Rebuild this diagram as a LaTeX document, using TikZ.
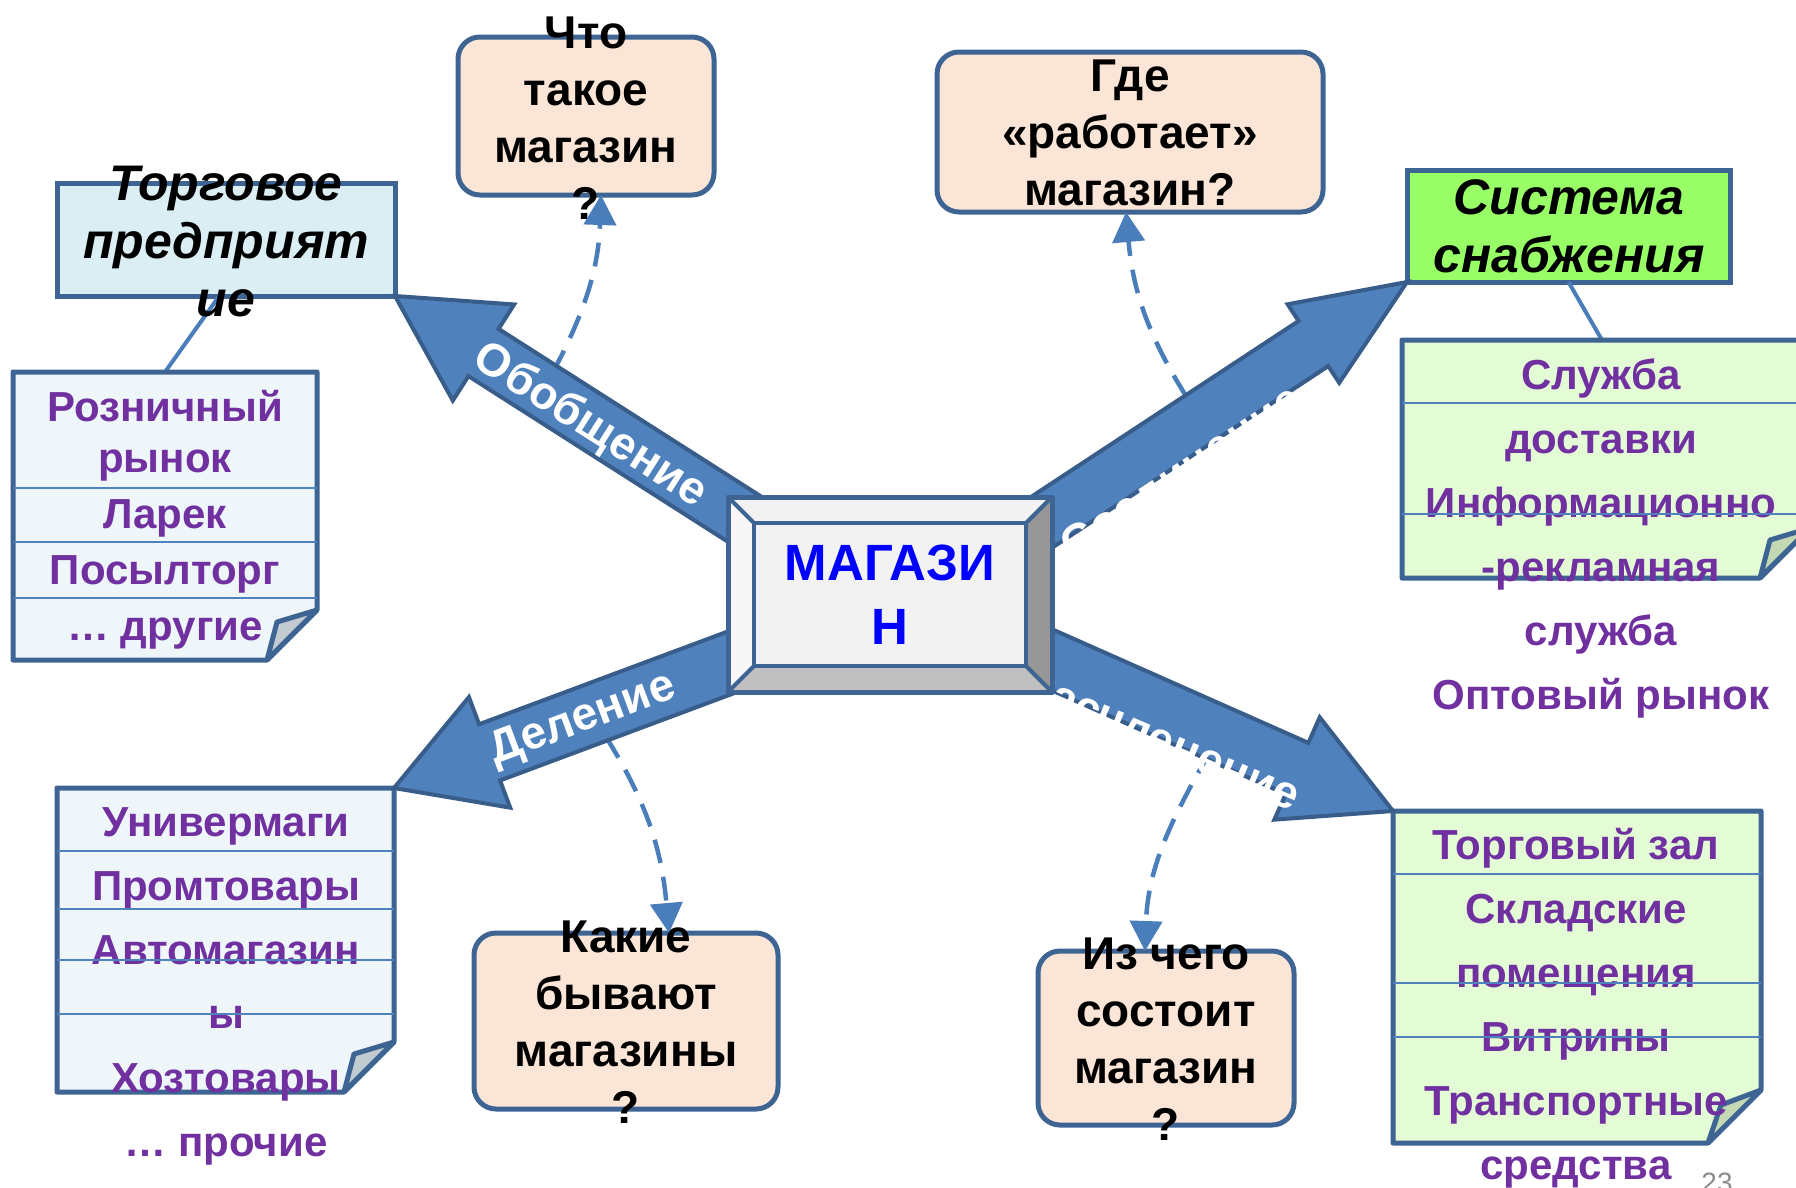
\documentclass[tikz,border=0pt]{standalone}
\usepackage{fontspec}
\setmainfont{Liberation Sans}
\usetikzlibrary{arrows.meta,calc}
\definecolor{arrowfill}{HTML}{4F81BD}
\definecolor{arrowline}{HTML}{385D8A}
\definecolor{boxline}{HTML}{3E6494}
\definecolor{peach}{HTML}{FBE5D6}
\definecolor{paleblue}{HTML}{DAEEF3}
\definecolor{brightgreen}{HTML}{99FF66}
\definecolor{listblue}{HTML}{EEF6F9}
\definecolor{listgreen}{HTML}{E3FCD6}
\definecolor{foldblue}{HTML}{C2CBCF}
\definecolor{foldgreen}{HTML}{C3D9B4}
\definecolor{itemviolet}{HTML}{7030A0}
\definecolor{sepblue}{HTML}{4F81BD}
\definecolor{dashblue}{HTML}{4A7EBB}
\definecolor{bevleft}{HTML}{F7F7F7}
\definecolor{bevright}{HTML}{979797}
\definecolor{bevbottom}{HTML}{C0C0C0}
\definecolor{bevface}{HTML}{F2F2F2}
\definecolor{pagegray}{HTML}{8C8C8C}

\newcommand\blockarrow[5]{%
  \coordinate (ba-base) at ($(#2)!#5!(#1)$);
  \draw[bigarrow] ($(#1)!#3!90:(#2)$) -- ($(ba-base)!#3!90:(#2)$) -- ($(ba-base)!#4!90:(#2)$) -- (#2)
    -- ($(ba-base)!#4!-90:(#2)$) -- ($(ba-base)!#3!-90:(#2)$) -- ($(#1)!#3!-90:(#2)$) -- cycle;}

\newcommand\foldframe[4]{%
  \draw[listframe,fill=#2] (#1.north west) -- (#1.north east) -- ([yshift=#4]#1.south east)
    -- ([xshift=-#4]#1.south east) -- (#1.south west) -- cycle;
  \draw[listframe,fill=#3] ([yshift=#4]#1.south east) -- ([xshift=-40pt,yshift=38pt]#1.south east)
    -- ([xshift=-#4]#1.south east) -- cycle;}

\tikzset{
  bigarrow/.style={fill=arrowfill, draw=arrowline, line width=4pt, line join=miter},
  qbox/.style={draw=boxline, line width=5pt, fill=peach, rounded corners=22pt, inner sep=0pt, outer sep=0pt},
  qtext/.style={align=center, font=\fontsize{46}{57}\selectfont\bfseries, text=black, inner sep=0pt},
  titlebox/.style={draw=boxline, line width=5pt, inner sep=0pt, outer sep=0pt},
  titletext/.style={align=center, font=\fontsize{50}{58}\selectfont\bfseries\itshape, text=black, inner sep=0pt},
  listgeom/.style={inner sep=0pt, outer sep=0pt},
  listframe/.style={draw=boxline, line width=5pt, line join=round},
  listtext/.style={align=center, font=\fontsize{42}{64}\selectfont\bfseries, text=itemviolet, inner sep=0pt},
  sepline/.style={draw=sepblue, line width=2pt},
  dasharrow/.style={draw=dashblue, line width=4.5pt, dash pattern=on 24pt off 14pt, -{Triangle[length=30pt,width=32pt]}},
  connline/.style={draw=dashblue, line width=4pt},
  arrowlabel/.style={font=\fontsize{46}{50}\selectfont\bfseries, text=white, inner sep=0pt},
  shopbox/.style={fill=bevface, minimum width=324pt, minimum height=195pt, inner sep=0pt, outer sep=0pt,
     align=center, font=\fontsize{51}{64}\selectfont\bfseries, text={rgb,255:red,0;green,0;blue,255}},
  bevline/.style={draw=boxline, line width=4pt, line join=round},
}

\begin{document}
\begin{tikzpicture}[x=1pt,y=-1pt]
\useasboundingbox (0,0) rectangle (1796,1187);
\fill[white] (0,0) rectangle (1796,1187);
\clip (0,0) rectangle (1796,1187);

% question boxes
\node[qbox, minimum width=256pt, minimum height=158pt] (q1) at (586,116) {};
\node[qtext] (q1t) at (586,118) {Что\\такое\\магазин\\?};
\node[qbox, minimum width=386pt, minimum height=160pt] (q2) at (1130,132) {};
\node[qtext] (q2t) at (1130,133) {Где\\«работает»\\магазин?};
\node[qbox, minimum width=304pt, minimum height=176pt] (q3) at (626,1021) {};
\node[qtext] (q3t) at (626,1022) {Какие\\бывают\\магазины\\?};
\node[qbox, minimum width=256pt, minimum height=174pt] (q4) at (1166,1038) {};
\node[qtext] (q4t) at (1166,1039) {Из чего\\состоит\\магазин\\?};

% title boxes
\node[titlebox, fill=paleblue, minimum width=338pt, minimum height=113pt] (torg) at (226,239.5) {};
\node[titlebox, fill=brightgreen, minimum width=323pt, minimum height=112pt] (sys) at (1568.5,226) {};

% list geometry
\node[listgeom, minimum width=304pt, minimum height=288pt] (lb1) at (165,516) {};
\node[listgeom, minimum width=408pt, minimum height=238pt] (lb2) at (1606,459) {};
\node[listgeom, minimum width=337pt, minimum height=304pt] (lb3) at (225.5,940) {};
\node[listgeom, minimum width=368pt, minimum height=332pt] (lb4) at (1577,977) {};

% connectors title -> list
\draw[connline] ($(torg.south west)!0.48!(torg.south east)$) -- ($(lb1.north west)!0.5!(lb1.north east)$);
\draw[connline] ($(sys.south west)!0.5!(sys.south east)$) -- ($(lb2.north west)!0.49!(lb2.north east)$);

% lists
\foldframe{lb1}{listblue}{foldblue}{50pt}
\foldframe{lb2}{listgreen}{foldgreen}{50pt}
\foldframe{lb3}{listblue}{foldblue}{50pt}
\foldframe{lb4}{listgreen}{foldgreen}{53pt}

\node[listtext, font=\fontsize{42}{56}\selectfont\bfseries] (lt1) at (165,520) {Розничный\\[-5pt]рынок\\Ларек\\Посылторг\\… другие};
\node[listtext] (lt2) at (1601,538) {Служба\\доставки\\Информационно\\-рекламная\\служба\\Оптовый рынок};
\node[listtext] (lt3) at (226,986) {Универмаги\\Промтовары\\Автомагазин\\ы\\Хозтовары\\… прочие};
\node[listtext] (lt4) at (1576,1008) {Торговый зал\\Складские\\помещения\\Витрины\\Транспортные\\средства};

\draw[sepline] (13,488) -- (317,488);
\draw[sepline] (13,542) -- (317,542);
\draw[sepline] (13,598) -- (317,598);
\draw[sepline] (1402,403) -- (1810,403);
\draw[sepline] (1402,514) -- (1810,514);
\draw[sepline] (57,851) -- (394,851);
\draw[sepline] (57,909) -- (394,909);
\draw[sepline] (57,960) -- (394,960);
\draw[sepline] (57,1014) -- (394,1014);
\draw[sepline] (1393,874) -- (1761,874);
\draw[sepline] (1393,983) -- (1761,983);
\draw[sepline] (1393,1037) -- (1761,1037);

% title texts
\node[titletext] (torgt) at (226,242) {Торговое\\предприят\\ие};
\node[titletext] (syst) at (1569,226) {Система\\снабжения};

% dashed curved arrows
\coordinate (d1s) at (553,372);
\coordinate (d2s) at (1186,396);
\coordinate (d3s) at (606,737);
\coordinate (d4s) at (1210,752);
\draw[dasharrow] (d1s) to[out=62,in=-92] (q1.south -| 601,0);
\draw[dasharrow] (d2s) to[out=122,in=-85] (q2.south -| 1126,0);
\draw[dasharrow] (d3s) to[out=-58,in=95] (q3.north -| 669,0);
\draw[dasharrow] (d4s) to[out=-120,in=88] (q4.north -| 1145,0);

% big block arrows
\coordinate (tailUL) at (890,612);
\coordinate (tailUR) at (890,622);
\coordinate (tailDL) at (890,603);
\coordinate (tailDR) at (890,588);
\blockarrow{tailUL}{torg.south east}{28pt}{57pt}{105pt}
\blockarrow{tailUR}{sys.south west}{27pt}{47pt}{112pt}
\blockarrow{tailDL}{lb3.north east}{30pt}{59pt}{102pt}
\blockarrow{tailDR}{lb4.north west}{28pt}{56pt}{105pt}

% arrow labels
\node[arrowlabel, rotate=-32.4] (lab1) at (590,426) {Обобщение};
\node[arrowlabel, rotate=20.5] (lab2) at (583,720) {Деление};
\node[arrowlabel, rotate=33.6, anchor=north] (lab3) at (1172,458) {Соединение};
\node[arrowlabel, rotate=-23, anchor=north] (lab4) at (1168,724) {Расчленение};

% central bevel box
\node[shopbox] (shop) at (890,594.5) {МАГАЗИ\\Н};
\fill[bevleft] (shop.north west) -- ([shift={(26pt,-26pt)}]shop.north west) -- ([shift={(26pt,26pt)}]shop.south west) -- (shop.south west) -- cycle;
\fill[bevright] (shop.north east) -- ([shift={(-26pt,-26pt)}]shop.north east) -- ([shift={(-26pt,26pt)}]shop.south east) -- (shop.south east) -- cycle;
\fill[bevbottom] (shop.south west) -- ([shift={(26pt,26pt)}]shop.south west) -- ([shift={(-26pt,26pt)}]shop.south east) -- (shop.south east) -- cycle;
\draw[bevline] ([shift={(26pt,-26pt)}]shop.north west) rectangle ([shift={(-26pt,26pt)}]shop.south east);
\draw[bevline] (shop.north west) -- ([shift={(26pt,-26pt)}]shop.north west);
\draw[bevline] (shop.north east) -- ([shift={(-26pt,-26pt)}]shop.north east);
\draw[bevline] (shop.south west) -- ([shift={(26pt,26pt)}]shop.south west);
\draw[bevline] (shop.south east) -- ([shift={(-26pt,26pt)}]shop.south east);
\draw[bevline, line width=5pt] (shop.north west) rectangle (shop.south east);

% page number
\node[font=\fontsize{28}{30}\selectfont, text=pagegray, inner sep=0pt, anchor=north] (pnum) at (1717,1173) {23};
\end{tikzpicture}
\end{document}
